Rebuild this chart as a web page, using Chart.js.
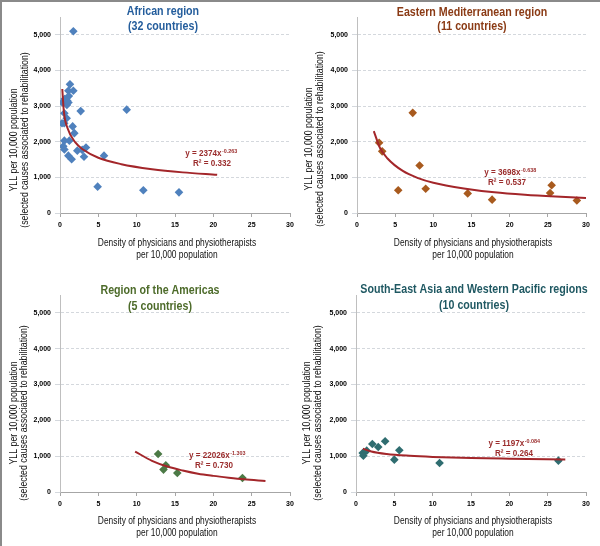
<!DOCTYPE html>
<html><head><meta charset="utf-8">
<script src="https://cdn.jsdelivr.net/npm/chart.js@4.4.0/dist/chart.umd.min.js"></script>
<style>
html,body{margin:0;padding:0;background:#fff;}
#wrap{position:relative;width:600px;height:546px;overflow:hidden;background:#fff;}
.p{position:absolute;width:300px;height:273px;}
#frame{position:absolute;left:0;top:0;width:600px;height:546px;box-sizing:border-box;border-left:2px solid #8a8a8a;border-top:2px solid #8a8a8a;pointer-events:none;}
</style>
</head><body>
<div id="wrap">
  <div class="p" style="left:0;top:0"><canvas id="c1" width="300" height="273"></canvas></div>
  <div class="p" style="left:300px;top:0"><canvas id="c2" width="300" height="273"></canvas></div>
  <div class="p" style="left:0;top:273px"><canvas id="c3" width="300" height="273"></canvas></div>
  <div class="p" style="left:300px;top:273px"><canvas id="c4" width="300" height="273"></canvas></div>
  <div id="frame"></div>
</div>
<script>
// ---- data ----
const yTickValues = [0, 1000, 2000, 3000, 4000, 5000];
const xTickValues = [0, 5, 10, 15, 20, 25, 30];

const regionTitles = [
  ["African region", "(32 countries)"],
  ["Eastern Mediterranean region", "(11 countries)"],
  ["Region of the Americas", "(5 countries)"],
  ["South-East Asia and Western Pacific regions", "(10 countries)"]
];

// African region
const afrX = [1.74,1.30,1.09,1.74,1.15,0.30,0.60,0.90,1.10,0.57,0.87,0.26,0.55,1.65,1.87,0.57,1.22,0.43,0.57,1.09,1.52,2.26,2.90,3.39,3.13,2.70,5.74,4.91,8.70,10.87,15.52,0.95];
const afrY = [5100,3610,3430,3430,3280,3100,3200,3030,3100,2800,2660,2520,2520,2430,2240,2030,2030,1870,1780,1610,1510,1750,1770,1840,1580,2860,1610,740,2900,640,580,3150];
const afrTrendX = [0.3,0.5,1,2,3,5,8,12,16,20.5];
const afrTrendY = [3480,2850,2370,1980,1780,1550,1370,1230,1140,1070];

// Eastern Mediterranean region
const emrX = [2.9,3.3,5.4,7.3,8.2,9.0,14.5,17.7,25.3,25.5,28.8];
const emrY = [1970,1730,640,2810,1335,680,550,375,560,780,350];
const emrTrendX = [2.2,3,4,6,8,10,14,18,22,26,30];
const emrTrendY = [2300,1830,1530,1180,980,850,690,580,510,460,420];

// Region of the Americas
const amrX = [12.8,13.8,13.5,15.3,23.8];
const amrY = [1060,745,625,530,390];
const amrTrendX = [9.8,12,14,16,18,20,22,24,26.8];
const amrTrendY = [1130,870,710,600,510,450,400,355,305];

// South-East Asia and Western Pacific regions
const seaX = [0.87,0.96,1.4,2.13,2.9,3.8,5.0,5.65,10.9,26.4];
const seaY = [1090,1015,1155,1340,1257,1415,903,1164,810,875];
const seaTrendX = [0.9,2,4,7,10,15,20,27.3];
const seaTrendY = [1210,1130,1060,1010,980,950,930,905];

const eqCoef = ["2374", "3698", "22026", "1197"];
const eqExp = ["-0.263", "-0.638", "-1.303", "-0.084"];
const eqR2 = ["0.332", "0.537", "0.730", "0.264"];

const xAxisTitle = ["Density of physicians and physiotherapists", "per 10,000 population"];
const yAxisTitle = ["YLL per 10,000 population", "(selected causes associated to rehabilitation)"];

// ---- drawing ----
const FONT = '"Liberation Sans", Arial, sans-serif';
const toPts = (xs, ys) => xs.map((x, i) => ({x: x, y: ys[i]}));

function condensed(ctx, text, x, y, sx, rot) {
  ctx.save();
  ctx.translate(x, y);
  if (rot) ctx.rotate(rot);
  ctx.scale(sx, 1);
  ctx.fillText(text, 0, 0);
  ctx.restore();
}

const overlay = {
  id: 'overlay',
  afterDraw(chart, args, o) {
    const ctx = chart.ctx;
    ctx.save();
    ctx.textAlign = 'center';
    ctx.textBaseline = 'middle';
    // region title
    ctx.fillStyle = o.titleColor;
    ctx.font = 'bold 13px ' + FONT;
    o.title.forEach((t, i) => condensed(ctx, t, o.titleX, o.titleY[i], 0.82));
    // y axis title
    ctx.fillStyle = '#111';
    ctx.font = '10px ' + FONT;
    o.yTitle.forEach((t, i) => condensed(ctx, t, o.yTitleX[i], o.yTitleCY, 0.88, -Math.PI / 2));
    // x axis title
    ctx.fillStyle = '#111';
    ctx.font = '10px ' + FONT;
    o.xTitle.forEach((t, i) => condensed(ctx, t, o.xTitleX, o.xTitleY[i], 0.84));
    // trend equation
    ctx.fillStyle = '#9b2d2d';
    ctx.textAlign = 'left';
    const sq = 0.9;
    const mainF = 'bold 9px ' + FONT, supF = 'bold 6px ' + FONT;
    const main = 'y = ' + o.coef + 'x';
    ctx.font = mainF; const w1 = ctx.measureText(main).width * sq;
    ctx.font = supF; const w2 = ctx.measureText(o.exp).width * sq;
    const sx = o.eqX - (w1 + w2) / 2;
    ctx.font = mainF; condensed(ctx, main, sx, o.eqY, sq);
    ctx.font = supF; condensed(ctx, o.exp, sx + w1 + 0.5, o.eqY - 3, sq);
    ctx.font = mainF;
    ctx.textAlign = 'center';
    condensed(ctx, 'R\u00B2 = ' + o.r2, o.r2X, o.eqY + 10, sq);
    ctx.restore();
  }
};

function makePanel(id, pts, trend, ptColor, titleColor, idx, L) {
  new Chart(document.getElementById(id), {
    type: 'scatter',
    data: {
      datasets: [
        {
          type: 'line',
          data: trend,
          borderColor: '#a3262a',
          borderWidth: 2,
          pointRadius: 0,
          fill: false,
          cubicInterpolationMode: 'monotone',
          order: 0
        },
        {
          data: pts,
          pointStyle: 'rectRot',
          pointRadius: 4.3,
          backgroundColor: ptColor,
          borderColor: ptColor,
          borderWidth: 0,
          order: 1
        }
      ]
    },
    options: {
      responsive: false,
      animation: false,
      events: [],
      layout: {padding: {top: L.padTop, right: L.padRight, left: 0, bottom: 0}},
      plugins: {
        legend: {display: false},
        tooltip: {enabled: false},
        overlay: {
          title: regionTitles[idx], titleColor: titleColor, titleX: L.titleX, titleY: L.titleY,
          yTitle: yAxisTitle, yTitleX: L.yTitleX, yTitleCY: L.yTitleCY,
          xTitle: xAxisTitle, xTitleX: L.xTitleX, xTitleY: L.xTitleY,
          coef: eqCoef[idx], exp: eqExp[idx], r2: eqR2[idx], eqX: L.eqX, eqY: L.eqY, r2X: L.r2X
        }
      },
      scales: {
        x: {
          type: 'linear', min: 0, max: 30,
          afterFit: s => { s.height = L.xH; },
          afterBuildTicks: s => { s.ticks = xTickValues.map(v => ({value: v})); },
          ticks: {font: {family: FONT, size: 7, weight: 'bold'}, color: '#000', padding: 4, maxRotation: 0},
          grid: {drawOnChartArea: false, drawTicks: true, tickLength: 4, color: '#a6a6a6'},
          border: {display: true, color: '#a6a6a6'}
        },
        y: {
          type: 'linear', min: 0, max: 5500,
          afterFit: s => { s.width = L.yW; },
          afterBuildTicks: s => { s.ticks = yTickValues.map(v => ({value: v})); },
          ticks: {font: {family: FONT, size: 7, weight: 'bold'}, color: '#000', padding: 4,
                  callback: v => v.toLocaleString('en-US')},
          grid: {color: '#d4d8dd', tickLength: 5, drawTicks: true},
          border: {display: true, color: '#bfbfbf', dash: [3, 2]}
        }
      }
    },
    plugins: [overlay]
  });
}

makePanel('c1', toPts(afrX, afrY), toPts(afrTrendX, afrTrendY), '#4f81bd', '#245d9c', 0,
  {padTop: 17, padRight: 10, yW: 60, xH: 60, titleX: 163, titleY: [11, 26.5],
   yTitleX: [14, 25], yTitleCY: 140, xTitleX: 177, xTitleY: [243, 255],
   eqX: 211, eqY: 154, r2X: 212});
makePanel('c2', toPts(emrX, emrY), toPts(emrTrendX, emrTrendY), '#a85a1e', '#8a3a14', 1,
  {padTop: 17, padRight: 14, yW: 57, xH: 60, titleX: 172, titleY: [12, 26.5],
   yTitleX: [9.5, 20.5], yTitleCY: 139, xTitleX: 173, xTitleY: [243, 255],
   eqX: 210, eqY: 173, r2X: 207});
makePanel('c3', toPts(amrX, amrY), toPts(amrTrendX, amrTrendY), '#4c7a46', '#4d6b2a', 2,
  {padTop: 22, padRight: 10, yW: 60, xH: 54, titleX: 160, titleY: [17, 33],
   yTitleX: [14, 24.5], yTitleCY: 140, xTitleX: 177, xTitleY: [248, 260],
   eqX: 217, eqY: 183, r2X: 214});
makePanel('c4', toPts(seaX, seaY), toPts(seaTrendX, seaTrendY), '#2f6d70', '#1f5862', 3,
  {padTop: 22, padRight: 14, yW: 56, xH: 54, titleX: 174, titleY: [16.5, 32],
   yTitleX: [7, 18.5], yTitleCY: 140, xTitleX: 173, xTitleY: [248, 260],
   eqX: 214, eqY: 171, r2X: 214});
</script>
</body></html>
